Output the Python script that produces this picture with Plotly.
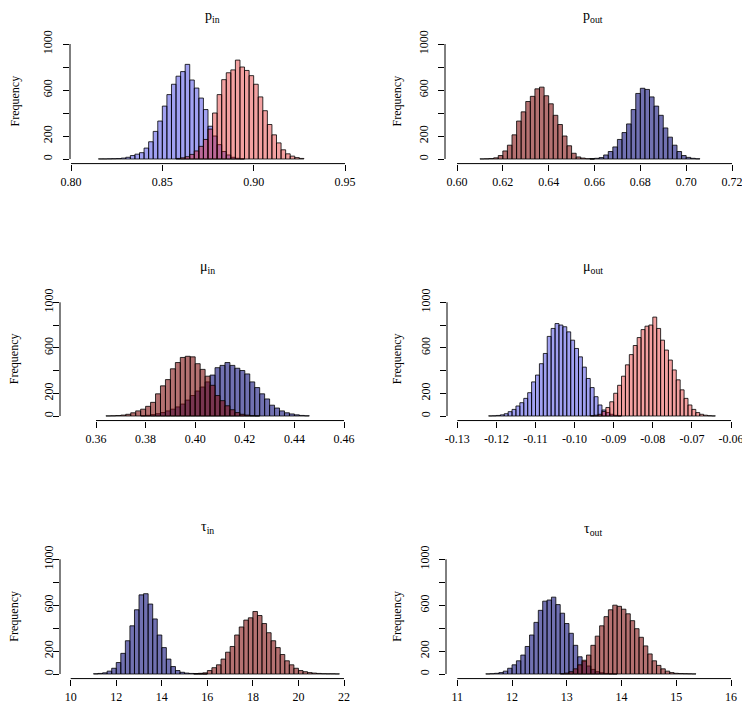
import numpy as np
import plotly.graph_objects as go

# ---------------- data (histogram counts) ----------------
# p_in
p_in_blue_start, p_in_blue_width = 0.8150, 0.0025
p_in_blue = [1, 1, 2, 3, 4, 8, 15, 30, 42, 55, 95, 150, 240, 330, 460, 560, 650, 720, 760, 823,
             687, 617, 530, 430, 285, 200, 125, 65, 35, 15, 6, 2]
p_in_red_start, p_in_red_width = 0.8575, 0.0025
p_in_red = [5, 10, 20, 40, 70, 110, 170, 260, 400, 560, 690, 750, 775, 860, 800, 770, 725, 650,
            540, 420, 300, 210, 140, 80, 45, 25, 12, 5]

# p_out
p_out_red_start, p_out_red_width = 0.610, 0.002
p_out_red = [1, 2, 4, 10, 30, 70, 120, 210, 330, 410, 500, 545, 610, 625, 550, 480, 380, 300,
             200, 115, 50, 18, 8, 3, 1]
p_out_blue_start, p_out_blue_width = 0.658, 0.002
p_out_blue = [3, 6, 12, 35, 65, 105, 170, 230, 305, 430, 570, 615, 605, 540, 460, 380, 270, 190,
              120, 65, 30, 14, 6, 2]

# mu_in
mu_in_red_start, mu_in_red_width = 0.364, 0.002
mu_in_red = [1, 2, 4, 8, 15, 28, 45, 60, 85, 120, 195, 265, 320, 415, 470, 515, 525, 520, 460,
             410, 350, 270, 180, 135, 90, 55, 30, 15, 8, 3, 1]
mu_in_blue_start, mu_in_blue_width = 0.378, 0.002
mu_in_blue = [3, 6, 12, 20, 30, 45, 60, 80, 105, 140, 180, 220, 255, 300, 360, 425, 445, 470, 445,
              420, 400, 370, 300, 250, 195, 150, 95, 70, 45, 28, 18, 10, 5, 2]

# mu_out
mu_out_blue_start, mu_out_blue_width = -0.122, 0.001
mu_out_blue = [1, 2, 5, 10, 20, 38, 58, 88, 117, 155, 205, 300, 360, 460, 550, 700, 770, 813, 800,
               785, 740, 667, 594, 520, 430, 330, 250, 170, 97, 53, 30, 15, 6, 2]
mu_out_red_start, mu_out_red_width = -0.096, 0.001
mu_out_red = [3, 7, 15, 40, 75, 125, 200, 270, 350, 450, 540, 620, 690, 760, 790, 800, 870, 770,
              667, 580, 492, 405, 318, 230, 155, 97, 58, 30, 15, 7, 3, 1]

# tau_in
tau_in_blue_start, tau_in_blue_width = 11.0, 0.2
tau_in_blue = [2, 5, 10, 25, 50, 100, 180, 290, 420, 560, 690, 700, 610, 480, 340, 230, 130, 65,
               30, 15, 8, 5, 3, 2, 1]
tau_in_red_start, tau_in_red_width = 15.4, 0.2
tau_in_red = [3, 6, 10, 30, 55, 80, 130, 190, 240, 340, 410, 470, 490, 545, 510, 440, 360, 290,
              230, 170, 115, 80, 50, 30, 20, 12, 8, 5, 3, 2, 2, 1]

# tau_out
tau_out_blue_start, tau_out_blue_width = 11.52, 0.08
tau_out_blue = [1, 3, 6, 12, 25, 50, 80, 115, 165, 240, 340, 450, 555, 635, 645, 670, 605, 530,
                440, 355, 250, 150, 110, 70, 40, 20, 10, 5, 2, 1]
tau_out_red_start, tau_out_red_width = 12.88, 0.08
tau_out_red = [3, 8, 20, 45, 80, 120, 165, 250, 330, 420, 500, 560, 600, 590, 565, 525, 465, 395,
               320, 245, 175, 115, 75, 45, 25, 12, 6, 4, 3, 2, 1]

# tick labels
p_in_ticks = [0.80, 0.85, 0.90, 0.95]
p_in_labels = ["0.80", "0.85", "0.90", "0.95"]
p_out_ticks = [0.60, 0.62, 0.64, 0.66, 0.68, 0.70, 0.72]
p_out_labels = ["0.60", "0.62", "0.64", "0.66", "0.68", "0.70", "0.72"]
mu_in_ticks = [0.36, 0.38, 0.40, 0.42, 0.44, 0.46]
mu_in_labels = ["0.36", "0.38", "0.40", "0.42", "0.44", "0.46"]
mu_out_ticks = [-0.13, -0.12, -0.11, -0.10, -0.09, -0.08, -0.07, -0.06]
mu_out_labels = ["-0.13", "-0.12", "-0.11", "-0.10", "-0.09", "-0.08", "-0.07", "-0.06"]
tau_in_ticks = [10, 12, 14, 16, 18, 20, 22]
tau_in_labels = ["10", "12", "14", "16", "18", "20", "22"]
tau_out_ticks = [11, 12, 13, 14, 15, 16]
tau_out_labels = ["11", "12", "13", "14", "15", "16"]
freq_ticks = [0, 200, 400, 600, 800, 1000]
freq_labels = ["0", "200", "", "600", "", "1000"]   # overlapping labels are dropped, as in R

titles = ["p<sub>in</sub>", "p<sub>out</sub>", "μ<sub>in</sub>", "μ<sub>out</sub>",
          "τ<sub>in</sub>", "τ<sub>out</sub>"]

# ---------------- styling / geometry ----------------
OX, OY = 8, 8              # page body margin of the html page
W, H = 750 - OX, 711 - OY  # figure size so the page fits the window
FONT = "Liberation Serif, Times New Roman, serif"
LIGHT_BLUE = "rgba(20,20,220,0.40)"
LIGHT_RED = "rgba(225,20,20,0.40)"
DARK_BLUE = "rgba(10,10,120,0.58)"
DARK_RED = "rgba(125,10,10,0.58)"


def fx(px):
    return (px - OX) / W


def fy(py):
    return 1 - (py - OY) / H


panels = [
    dict(hists=[(p_in_blue_start, p_in_blue_width, p_in_blue, LIGHT_BLUE),
                (p_in_red_start, p_in_red_width, p_in_red, LIGHT_RED)],
         ticks=p_in_ticks, labels=p_in_labels, yax=70, v0=0.80, p0=71, v1=0.95, p1=345,
         y0=159, y1=44, tx=212, ty=17, fx=14, ystand=6),
    dict(hists=[(p_out_blue_start, p_out_blue_width, p_out_blue, DARK_BLUE),
                (p_out_red_start, p_out_red_width, p_out_red, DARK_RED)],
         ticks=p_out_ticks, labels=p_out_labels, yax=445, v0=0.60, p0=457, v1=0.72, p1=732,
         y0=159, y1=44, tx=593, ty=17, fx=396, ystand=5),
    dict(hists=[(mu_in_blue_start, mu_in_blue_width, mu_in_blue, DARK_BLUE),
                (mu_in_red_start, mu_in_red_width, mu_in_red, DARK_RED)],
         ticks=mu_in_ticks, labels=mu_in_labels, yax=60, v0=0.36, p0=96, v1=0.46, p1=344,
         y0=416, y1=302.3, tx=207, ty=267, fx=14, ystand=-5),
    dict(hists=[(mu_out_blue_start, mu_out_blue_width, mu_out_blue, LIGHT_BLUE),
                (mu_out_red_start, mu_out_red_width, mu_out_red, LIGHT_RED)],
         ticks=mu_out_ticks, labels=mu_out_labels, yax=447, v0=-0.13, p0=457.3, v1=-0.06, p1=731,
         y0=416, y1=302.3, tx=593, ty=267, fx=397, ystand=5),
    dict(hists=[(tau_in_blue_start, tau_in_blue_width, tau_in_blue, DARK_BLUE),
                (tau_in_red_start, tau_in_red_width, tau_in_red, DARK_RED)],
         ticks=tau_in_ticks, labels=tau_in_labels, yax=60, v0=10, p0=70.7, v1=22, p1=344,
         y0=674, y1=559.3, tx=207, ty=527, fx=14, ystand=-5),
    dict(hists=[(tau_out_blue_start, tau_out_blue_width, tau_out_blue, DARK_BLUE),
                (tau_out_red_start, tau_out_red_width, tau_out_red, DARK_RED)],
         ticks=tau_out_ticks, labels=tau_out_labels, yax=446, v0=11, p0=457.3, v1=16, p1=731,
         y0=674, y1=559.3, tx=593, ty=529, fx=397, ystand=5),
]

fig = go.Figure()
layout = dict(template="none", width=W, height=H, autosize=False,
              margin=dict(l=0, r=0, t=0, b=0, pad=0, autoexpand=False),
              paper_bgcolor="white", plot_bgcolor="white", barmode="overlay",
              showlegend=False, font=dict(family=FONT, size=12, color="black"))
shapes, annotations = [], []

for k, p in enumerate(panels, start=1):
    xn = "x" if k == 1 else f"x{k}"
    yn = "y" if k == 1 else f"y{k}"
    xkey = "xaxis" if k == 1 else f"xaxis{k}"
    ykey = "yaxis" if k == 1 else f"yaxis{k}"

    scale = (p["p1"] - p["p0"]) / (p["v1"] - p["v0"])  # px per unit
    left_px = p["yax"]
    right_px = min(p["p1"] + 10, 749)
    xr0 = p["v0"] + (left_px - p["p0"]) / scale
    xr1 = p["v0"] + (right_px - p["p0"]) / scale

    s = (p["y0"] - p["y1"]) / 1000.0
    top_px = p["y1"] - 40 * s
    bot_px = p["y0"] + 40 * s

    for start, width, counts, color in p["hists"]:
        edges = start + width * np.arange(len(counts))
        fig.add_trace(go.Bar(x=edges, y=counts, width=width, offset=0,
                             marker=dict(color=color, line=dict(color="black", width=0.8)),
                             xaxis=xn, yaxis=yn, hoverinfo="skip"))

    layout[xkey] = dict(domain=[fx(left_px), fx(right_px)], range=[xr0, xr1], anchor=yn,
                        automargin=False,
                        tickvals=p["ticks"], ticktext=p["labels"], ticks="outside",
                        ticklen=6, tickwidth=1, tickcolor="black", showline=False,
                        showgrid=False, zeroline=False, ticklabelstandoff=1,
                        tickfont=dict(family=FONT, size=12, color="black"))
    layout[ykey] = dict(domain=[fy(bot_px), fy(top_px)], range=[-40, 1040], anchor=xn,
                        automargin=False,
                        tickvals=freq_ticks, ticktext=freq_labels, ticks="outside",
                        ticklen=6, tickwidth=1, tickcolor="black", tickangle=-90,
                        showline=False, showgrid=False, zeroline=False,
                        ticklabelstandoff=p["ystand"],
                        tickfont=dict(family=FONT, size=12, color="black"))

    shapes.append(dict(type="line", xref=f"{xn} domain", yref=yn, x0=0, x1=0, y0=0, y1=1000,
                       line=dict(color="black", width=1)))
    shapes.append(dict(type="line", xref=xn, yref=f"{yn} domain", x0=p["ticks"][0],
                       x1=p["ticks"][-1], y0=0, y1=0, line=dict(color="black", width=1)))

    annotations.append(dict(text=titles[k - 1], x=fx(p["tx"]), y=fy(p["ty"]),
                            xref="paper", yref="paper", showarrow=False,
                            xanchor="center", yanchor="middle",
                            font=dict(family=FONT, size=14, color="black")))
    annotations.append(dict(text="Frequency", x=fx(p["fx"]),
                            y=fy((p["y0"] + p["y1"]) / 2),
                            xref="paper", yref="paper", showarrow=False, textangle=-90,
                            xanchor="center", yanchor="middle",
                            font=dict(family=FONT, size=12, color="black")))

layout["shapes"] = shapes
layout["annotations"] = annotations
fig.update_layout(**layout)
fig.write_html("out.html")
